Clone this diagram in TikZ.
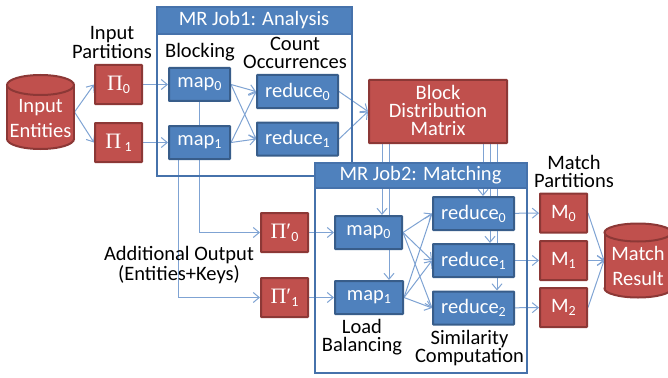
\documentclass[tikz,border=0pt]{standalone}
\usepackage{fontspec}
\setmainfont{Carlito}
\newfontfamily\pifont{Liberation Serif}
\usetikzlibrary{arrows.meta,calc}
\pgfdeclarelayer{back}
\pgfsetlayers{back,main}
\definecolor{rfill}{HTML}{C0504D}
\definecolor{rline}{HTML}{8C3836}
\definecolor{bfill}{HTML}{4F81BD}
\definecolor{bline}{HTML}{385D8A}
\definecolor{frameblue}{HTML}{4672AB}
\definecolor{conn}{HTML}{7FA3D3}
\newcommand{\lowidx}[1]{\raisebox{-3pt}{\fontsize{14}{14}\selectfont #1}}
\newcommand{\PiBig}{{\pifont\fontsize{22}{22}\selectfont Π}}
\newcommand{\PiPrime}{{\pifont\fontsize{22}{22}\selectfont Π′}}
% cylinder drawn round a named node: #1 node, #2 half width, #3 half height, #4 end radius
\newcommand{\dbcyl}[4]{%
  \path[draw=rline,fill=rfill,line width=2pt] ($(#1)+(0,#3-#4)$) ellipse [x radius=#2pt,y radius=#4pt];
  \fill[rfill] ($(#1)+(-#2,-#3+#4)$) rectangle ($(#1)+(#2,#3-#4)$);
  \draw[rline,line width=2pt] ($(#1)+(-#2,-#3+#4)$) -- ($(#1)+(-#2,#3-#4)$);
  \draw[rline,line width=2pt] ($(#1)+(#2,-#3+#4)$) -- ($(#1)+(#2,#3-#4)$);
  \path[draw=rline,fill=rfill,line width=2pt] ($(#1)+(0,-#3+#4)$) ellipse [x radius=#2pt,y radius=#4pt];
}
\tikzset{
  x=1pt,y=-1pt,
  txt/.style={font=\fontsize{20.5}{18}\selectfont,align=center,inner sep=0pt,text=black},
  whitetxt/.style={txt,text=white},
  redbox/.style={draw=rline,fill=rfill,line width=2pt,whitetxt,minimum width=47pt,minimum height=39pt,rounded corners=0.5pt},
  bluebox/.style={draw=bline,fill=bfill,line width=2pt,whitetxt,minimum width=61pt,minimum height=33pt,rounded corners=0.5pt},
  widebox/.style={bluebox,minimum width=81pt},
  framebox/.style={draw=frameblue,line width=2pt,inner sep=0pt},
  headbox/.style={draw=frameblue,fill=bfill,line width=2pt,whitetxt,inner sep=0pt},
  dbanchor/.style={inner sep=0pt,outer sep=0pt},
  edge/.style={draw=conn,line width=1pt,-{Straight Barb[length=6pt,width=10pt,line width=1pt]}},
}
\begin{document}
\begin{tikzpicture}
\useasboundingbox (0,0) rectangle (668,377);
\clip (0,0) rectangle (668,377);
% positions of the vertical runs
\coordinate (xa) at (199,0);
\coordinate (xb) at (178,0);
\coordinate (xc) at (382,0);
\coordinate (xd) at (389,0);
\coordinate (xe) at (483,0);
\coordinate (xf) at (490,0);
\coordinate (xg) at (497,0);
% frames
\node[framebox,minimum width=195pt,minimum height=169pt] (job1) at (254,91.5) {};
\node[framebox,minimum width=212pt,minimum height=210pt] (job2) at (420.5,267.5) {};
% boxes
\node[redbox] (p0) at (118.5,84.5) {\PiBig\lowidx{0}};
\node[redbox] (p1) at (118.5,142.5) {\PiBig\,\lowidx{1}};
\node[bluebox] (am0) at (199.5,84.5) {map\lowidx{0}};
\node[bluebox] (am1) at (199.5,142.5) {map\lowidx{1}};
\node[widebox] (ar0) at (297.5,91.5) {reduce\lowidx{0}};
\node[widebox] (ar1) at (297.5,139) {reduce\lowidx{1}};
\node[redbox,minimum width=138pt,minimum height=63pt] (bdm) at (438,111.5) {Block\\Distribution\\Matrix\rule[-3pt]{0pt}{3pt}};
\node[redbox] (q0) at (284.5,232.5) {\PiPrime\lowidx{0}};
\node[redbox] (q1) at (284.5,297.5) {\PiPrime\lowidx{1}};
\node[bluebox,minimum width=67pt] (bm0) at (368.5,232.5) {map\lowidx{0}};
\node[bluebox,minimum width=68pt] (bm1) at (369,297.5) {map\lowidx{1}};
\node[widebox] (br0) at (473.5,213.5) {reduce\lowidx{0}};
\node[widebox] (br1) at (473.5,260.5) {reduce\lowidx{1}};
\node[widebox] (br2) at (473.5,308) {reduce\lowidx{2}};
\node[redbox] (m0) at (563.5,213) {M\lowidx{0}};
\node[redbox] (m1) at (563.5,260.5) {M\lowidx{1}};
\node[redbox] (m2) at (563.5,307.5) {M\lowidx{2}};
\node[dbanchor,minimum width=68pt,minimum height=75pt] (inp) at (40.5,112) {};
\dbcyl{inp}{33.5}{37}{10}
\node[whitetxt,anchor=base] (inpA) at (40.5,112.5) {Input};
\node[whitetxt,anchor=base] (inpB) at (40.5,137) {Entities};
\node[dbanchor,minimum width=68pt,minimum height=75pt] (res) at (638,260.5) {};
\dbcyl{res}{33.5}{37}{9}
\node[whitetxt,anchor=base] (resA) at (638,260) {Match};
\node[whitetxt,anchor=base] (resB) at (638,285) {Result};
% headers, on top of the connectors and frames
\node[headbox,minimum width=195pt,minimum height=27pt] (h1) at (254,20.5) {MR Job1: Analysis};
\node[headbox,minimum width=212pt,minimum height=25pt] (h2) at (420.5,175.5) {MR Job2: Matching};
% labels
\node[txt] (l1) at (112,42.5) {Input\\Partitions};
\node[txt] (l2) at (200,52) {Blocking};
\node[txt] (l3) at (295,53) {Count\\Occurrences};
\node[txt] (l4) at (574,171) {Match\\Partitions};
\node[txt] (l5) at (179,265) {Additional Output\\(Entities+Keys)};
\node[txt] (l6) at (362,337.5) {Load\\Balancing};
\node[txt] (l7) at (469.5,348) {Similarity\\Computation};
% connectors
\begin{pgfonlayer}{back}
\draw[edge] (inp.east) -- (p0.west);
\draw[edge] (inp.east) -- (p1.west);
\draw[edge] (p0) -- (am0);
\draw[edge] (p1) -- (am1);
\draw[edge] (am0.east) -- (ar0.west);
\draw[edge] (am0.east) -- (ar1.west);
\draw[edge] (am1.east) -- (ar0.west);
\draw[edge] (am1.east) -- (ar1.west);
\draw[edge] (ar0.east) -- (bdm.west);
\draw[edge] (ar1.east) -- (bdm.west);
\draw[edge] (xa |- am0.south) |- (q0.west);
\draw[edge] (xb |- am1.south) |- (q1.west);
\draw[edge] (q0) -- (bm0);
\draw[edge] (q1) -- (bm1);
\draw[edge] (xc |- bdm.south) -- (xc |- bm0.north);
\draw[edge] (xd |- bdm.south) -- (xd |- bm1.north);
\draw[edge] (xe |- bdm.south) -- (xe |- br0.north);
\draw[edge] (xf |- bdm.south) -- (xf |- br1.north);
\draw[edge] (xg |- bdm.south) -- (xg |- br2.north);
\foreach \a in {bm0,bm1}{\foreach \b in {br0,br1,br2}{
  \draw[edge] (\a.east) -- (\b.west);}}
\draw[edge] (br0) -- (m0);
\draw[edge] (br1) -- (m1);
\draw[edge] (br2) -- (m2);
\draw[edge] (m0.east) -- (res.west);
\draw[edge] (m1.east) -- (res.west);
\draw[edge] (m2.east) -- (res.west);
\end{pgfonlayer}
\end{tikzpicture}
\end{document}
